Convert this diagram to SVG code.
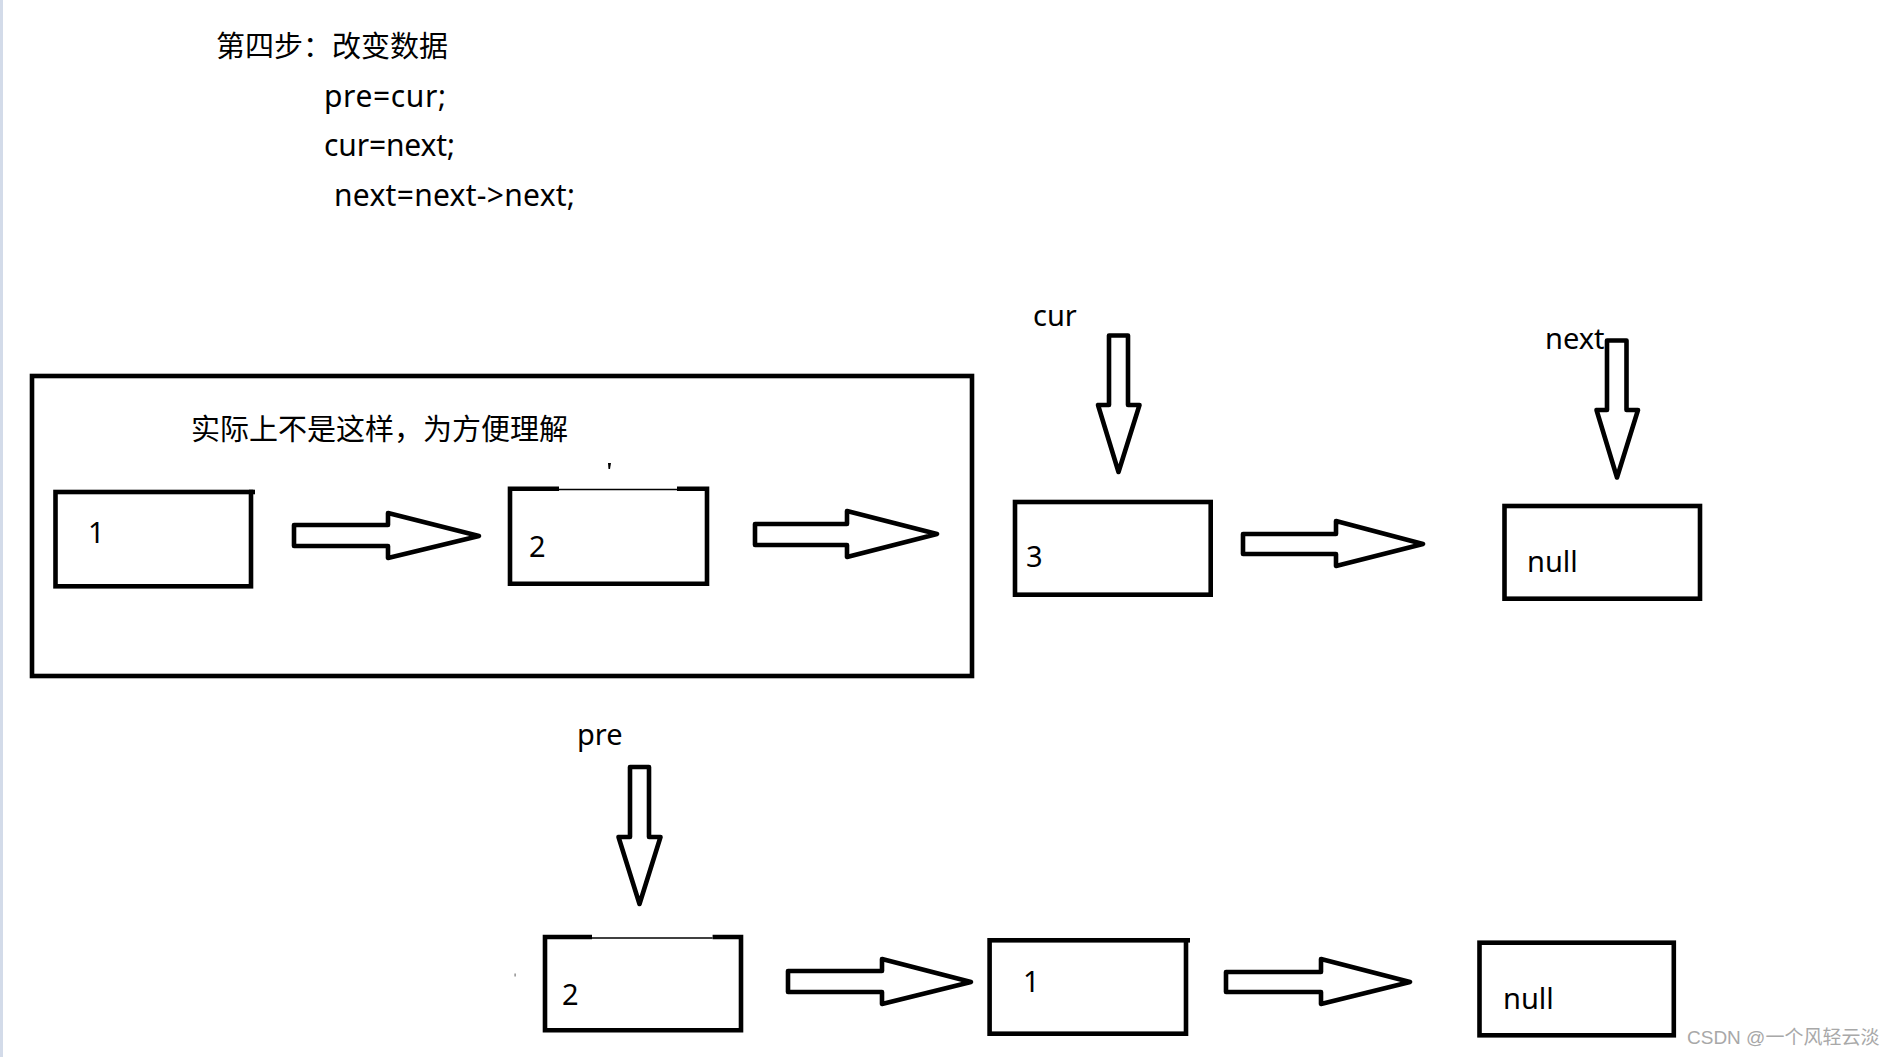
<svg xmlns="http://www.w3.org/2000/svg" width="1893" height="1057" viewBox="0 0 1893 1057">
<style>
.bg{fill:#ffffff}
.box{fill:none;stroke:#000;stroke-width:4.6}
.thin{fill:none;stroke:#000;stroke-width:1.5}
.arrow{fill:#fff;stroke:#000;stroke-width:4.6;stroke-linejoin:round}
.cjk{font-family:"Noto Sans CJK SC","Noto Sans",sans-serif;fill:#000}
.lat{font-family:"Noto Sans","Noto Sans CJK SC",sans-serif;fill:#000}
.wm{font-family:"Liberation Sans","Noto Sans CJK SC",sans-serif;fill:#a8a8a8;font-size:19px}
</style>
<rect class="bg" x="0" y="0" width="1893" height="1057"/>
<rect x="0" y="0" width="3" height="1057" fill="#d3dbe9"/>

<g id="header">
<text class="cjk" x="216" y="57" font-size="29">第四步：改变数据</text>
<text class="lat" x="324" y="107" font-size="30" textLength="122" lengthAdjust="spacing">pre=cur;</text>
<text class="lat" x="324" y="156" font-size="30" textLength="131" lengthAdjust="spacing">cur=next;</text>
<text class="lat" x="334" y="206" font-size="30" textLength="241" lengthAdjust="spacing">next=next-&gt;next;</text>
</g>

<g id="frame">
<rect class="box" x="32" y="376" width="940" height="300"/>
<text class="cjk" x="191" y="440" font-size="29">实际上不是这样，为方便理解</text>
</g>

<g id="node-1-top">
<rect class="box" x="55.5" y="492" width="195.5" height="94.3"/>
<line class="box" x1="249" y1="492" x2="255" y2="492"/>
<text class="lat" x="88" y="543" font-size="29">1</text>
</g>

<g id="node-2-top">
<polyline class="box" points="559,488.7 510,488.7 510,583.7 707,583.7 707,488.7 677,488.7"/>
<line class="thin" x1="559" y1="489.5" x2="677" y2="489.5"/>
<path d="M608,463 L611,463 L610,469 L608.5,469 Z" fill="#000"/>
<text class="lat" x="529" y="556.7" font-size="29">2</text>
</g>

<g id="node-3">
<rect class="box" x="1015" y="502" width="195.7" height="92.7"/>
<text class="lat" x="1026" y="566.7" font-size="29">3</text>
</g>

<g id="node-null-top">
<rect class="box" x="1504.5" y="506" width="195.5" height="92.7"/>
<text class="lat" x="1527" y="571.7" font-size="29">null</text>
</g>

<g id="node-2-bottom">
<polyline class="box" points="592,937 545,937 545,1030.3 741,1030.3 741,937 712.6,937"/>
<line class="thin" x1="592" y1="938" x2="712.6" y2="938"/>
<rect x="514.5" y="973.5" width="1.2" height="3" fill="#777"/>
<text class="lat" x="562" y="1005" font-size="29">2</text>
</g>

<g id="node-1-bottom">
<rect class="box" x="989.6" y="940.3" width="196.4" height="93.4"/>
<line class="box" x1="1184" y1="940.3" x2="1190" y2="940.3"/>
<text class="lat" x="1023" y="991.7" font-size="29">1</text>
</g>

<g id="node-null-bottom">
<rect class="box" x="1479.5" y="942.7" width="194.3" height="92.6"/>
<text class="lat" x="1503" y="1009" font-size="29">null</text>
</g>

<g id="labels">
<text class="lat" x="1033" y="326" font-size="29">cur</text>
<text class="lat" x="1545" y="349" font-size="29">next</text>
<text class="lat" x="577" y="745" font-size="29">pre</text>
</g>

<g id="connectors">
<polygon class="arrow" points="294,525 388,525 388,513 479,536 388,558 388,546 294,546"/>
<polygon class="arrow" points="755,524 847,524 847,511 937,534 847,557 847,545 755,545"/>
<polygon class="arrow" points="1243,534 1336,534 1336,521 1423,544 1336,566 1336,554 1243,554"/>
<polygon class="arrow" points="788,971 882,971 882,959 971,982 882,1004 882,992 788,992"/>
<polygon class="arrow" points="1226,972 1321,972 1321,959 1410,982 1321,1004 1321,992 1226,992"/>
<polygon class="arrow" points="1109,335.5 1128,335.5 1128,405 1139.5,405 1118.5,472 1098,405 1109,405"/>
<polygon class="arrow" points="1607,340.5 1626.5,340.5 1626.5,410 1638,410 1617,477.5 1596.5,410 1607,410"/>
<polygon class="arrow" points="630,767 649,767 649,837 660.5,837 639.5,904 618.5,837 630,837"/>
</g>

<g id="watermark">
<text class="wm" x="1687" y="1044">CSDN @一个风轻云淡</text>
</g>
</svg>
